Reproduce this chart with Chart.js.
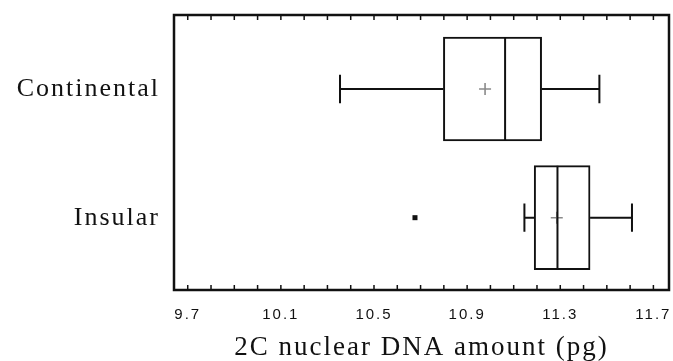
<!DOCTYPE html>
<html>
<head>
<meta charset="utf-8">
<script src="https://cdn.jsdelivr.net/npm/chart.js@4/dist/chart.umd.min.js"></script>
<style>
  html, body { margin: 0; padding: 0; background: #fff; }
  #wrap { width: 673px; height: 361px; position: relative; }
</style>
</head>
<body>
<div id="wrap"><canvas id="c"></canvas></div>
<script>
// ---- Data ----
const categories  = ['Continental', 'Insular'];
const whiskerLow  = [10.354, 11.146];
const q1          = [10.798, 11.188];
const median      = [11.063, 11.288];
const q3          = [11.220, 11.428];
const whiskerHigh = [11.468, 11.608];
const means       = [10.977, 11.285];
const outliers    = [[], [10.676]];
const xTickLabels = ['9.7', '10.1', '10.5', '10.9', '11.3', '11.7'];
const xMinorStep  = 0.1;
const xTitle      = '2C nuclear DNA amount (pg)';

const INK = '#111';

const boxPlugin = {
  id: 'boxExtras',
  beforeDraw(chart) {
    chart.ctx.letterSpacing = '2px';
  },
  afterDatasetsDraw(chart) {
    const ctx = chart.ctx;
    const xs = chart.scales.x, ys = chart.scales.y;
    const capHalf = 0.11;
    const boxHalf = 0.403;
    ctx.save();
    ctx.strokeStyle = INK;
    ctx.lineWidth = 2;
    categories.forEach((c, i) => {
      const yc = ys.getPixelForValue(i);
      const yTop = ys.getPixelForValue(i - boxHalf);
      const yBot = ys.getPixelForValue(i + boxHalf);
      const cTop = ys.getPixelForValue(i - capHalf);
      const cBot = ys.getPixelForValue(i + capHalf);
      // whiskers
      ctx.beginPath();
      ctx.moveTo(xs.getPixelForValue(whiskerLow[i]), yc);
      ctx.lineTo(xs.getPixelForValue(q1[i]), yc);
      ctx.moveTo(xs.getPixelForValue(q3[i]), yc);
      ctx.lineTo(xs.getPixelForValue(whiskerHigh[i]), yc);
      ctx.moveTo(xs.getPixelForValue(whiskerLow[i]), cTop);
      ctx.lineTo(xs.getPixelForValue(whiskerLow[i]), cBot);
      ctx.moveTo(xs.getPixelForValue(whiskerHigh[i]), cTop);
      ctx.lineTo(xs.getPixelForValue(whiskerHigh[i]), cBot);
      ctx.stroke();
      // mean marker
      const mx = xs.getPixelForValue(means[i]);
      ctx.save();
      ctx.strokeStyle = '#8a8a8a';
      ctx.lineWidth = 1.6;
      ctx.beginPath();
      ctx.moveTo(mx - 6, yc); ctx.lineTo(mx + 6, yc);
      ctx.moveTo(mx, yc - 6); ctx.lineTo(mx, yc + 6);
      ctx.stroke();
      ctx.restore();
      // median
      const md = xs.getPixelForValue(median[i]);
      ctx.beginPath();
      ctx.moveTo(md, yTop); ctx.lineTo(md, yBot);
      ctx.stroke();
      // outliers
      ctx.fillStyle = INK;
      outliers[i].forEach(v => {
        const ox = xs.getPixelForValue(v);
        ctx.fillRect(ox - 2.5, yc - 2.5, 5, 5);
      });
    });
    ctx.restore();
  },
  afterDraw(chart) {
    const ctx = chart.ctx;
    const a = chart.chartArea;
    const xs = chart.scales.x;
    ctx.save();
    ctx.strokeStyle = INK;
    ctx.lineWidth = 1.5;
    ctx.beginPath();
    xs.ticks.forEach(t => {
      const px = xs.getPixelForValue(t.value);
      ctx.moveTo(px, a.top); ctx.lineTo(px, a.top + 5);
      ctx.moveTo(px, a.bottom); ctx.lineTo(px, a.bottom - 5);
    });
    ctx.stroke();
    ctx.lineWidth = 2.5;
    ctx.strokeRect(a.left, a.top, a.right - a.left, a.bottom - a.top);
    ctx.restore();
  }
};

new Chart(document.getElementById('c'), {
  type: 'bar',
  data: {
    datasets: [{
      data: categories.map((c, i) => ({ y: i, x: [q1[i], q3[i]] })),
      backgroundColor: '#fff',
      borderColor: INK,
      borderWidth: 2,
      borderSkipped: false,
      barThickness: 104
    }]
  },
  options: {
    indexAxis: 'y',
    responsive: true,
    maintainAspectRatio: false,
    animation: false,
    layout: { padding: { top: 15, right: 4, left: 0, bottom: 0 } },
    plugins: { legend: { display: false }, tooltip: { enabled: false } },
    scales: {
      x: {
        type: 'linear',
        min: 9.641,
        max: 11.767,
        offset: false,
        afterBuildTicks(scale) {
          const start = parseFloat(xTickLabels[0]);
          const end = parseFloat(xTickLabels[xTickLabels.length - 1]);
          const ticks = [];
          for (let v = start; v <= end + 1e-9; v += xMinorStep) ticks.push({ value: +v.toFixed(1) });
          scale.ticks = ticks;
        },
        afterFit(scale) {
          scale.height = 71;
          scale.paddingLeft = 0; scale.paddingRight = 0;
        },
        grid: { display: false, drawTicks: false },
        border: { display: false },
        ticks: {
          autoSkip: false,
          maxRotation: 0,
          padding: 16,
          color: INK,
          font: { family: 'Liberation Sans, Arial, sans-serif', size: 15 },
          callback(v) {
            const s = (+v).toFixed(1);
            return xTickLabels.includes(s) ? s : '';
          }
        },
        title: {
          display: true,
          text: xTitle,
          color: INK,
          padding: { top: 0, bottom: 0 },
          font: { family: 'Liberation Serif, Times New Roman, serif', size: 27, lineHeight: 1 }
        }
      },
      y: {
        type: 'linear',
        reverse: true,
        offset: false,
        min: -0.575,
        max: 1.562,
        afterBuildTicks(scale) { scale.ticks = categories.map((c, i) => ({ value: i })); },
        afterFit(scale) {
          scale.width = 174;
          scale.paddingTop = 0; scale.paddingBottom = 0;
        },
        grid: { display: false, drawTicks: false },
        border: { display: false },
        ticks: {
          padding: 14,
          color: INK,
          font: { family: 'Liberation Serif, Times New Roman, serif', size: 26 },
          callback(v) { return categories[v] ?? ''; }
        }
      }
    }
  },
  plugins: [boxPlugin]
});
</script>
</body>
</html>
